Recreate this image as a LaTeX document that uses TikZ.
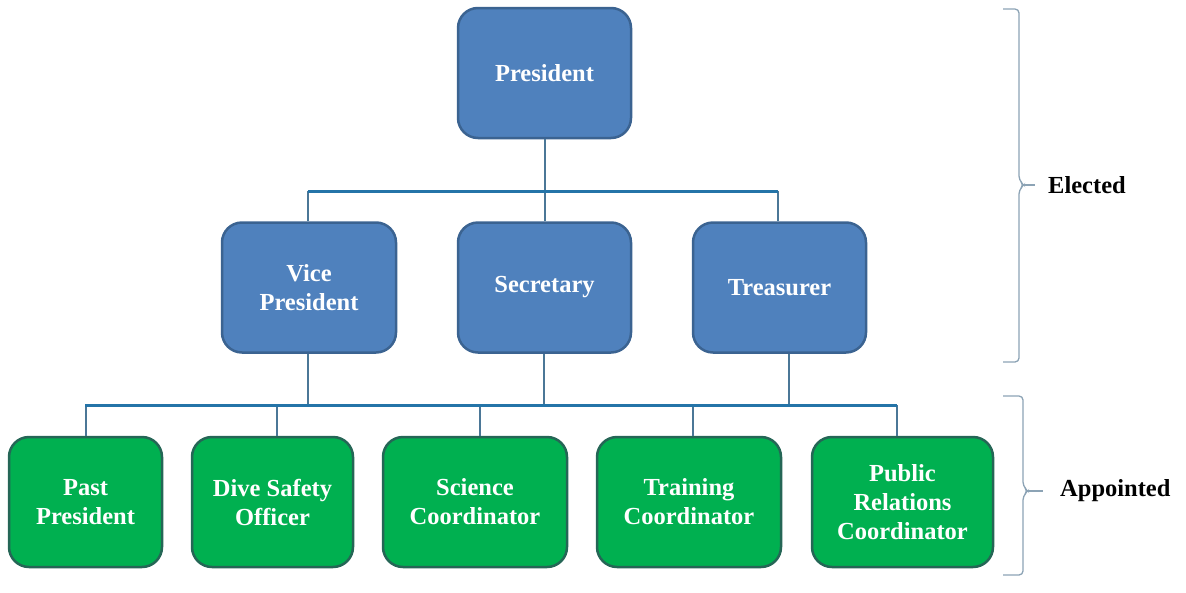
\documentclass[tikz,border=0pt]{standalone}
\usepackage{fontspec}
\setmainfont{Liberation Serif}
\usetikzlibrary{positioning}
\definecolor{boxblue}{HTML}{4F81BD}
\definecolor{edgeblue}{HTML}{3B6391}
\definecolor{boxgreen}{HTML}{00B050}
\definecolor{edgegreen}{HTML}{256656}
\definecolor{barblue}{HTML}{2474A8}
\definecolor{stemblue}{HTML}{4B7797}
\definecolor{bracegray}{HTML}{8CA3B5}

\begin{document}
\begin{tikzpicture}[x=1pt, y=-1pt,
    officer/.style={draw=edgeblue, fill=boxblue, line width=2.5pt, rounded corners=20pt,
      minimum width=#1, minimum height=130pt, inner sep=0pt, align=center, text=white,
      font=\fontsize{24.5}{29}\selectfont\bfseries},
    officer/.default=173pt,
    member/.style={officer=#1, draw=edgegreen, fill=boxgreen},
    stem/.style={draw=stemblue, line width=2pt},
    bar/.style={draw=barblue, line width=3pt},
    bracket/.style={draw=bracegray, line width=1.3pt, rounded corners=4pt},
    tag/.style={inner sep=0pt, font=\fontsize{24.5}{29}\selectfont\bfseries}]
      \useasboundingbox (0,0) rectangle (1186,592);

      % elected
      \node[officer] (pres) at (544.5,73) {President};
      \node[officer=174pt] (vp) at (309,287.5) {Vice\\President};
      \node[officer] (sec) at (544.5,287.5) {Secretary};
      \node[officer] (tre) at (779.5,287.5) {Treasurer};

      % appointed
      \node[member=153pt] (past) at (85.5,502) {Past\\President};
      \node[member=161pt] (dive) at (272.5,502) {Dive Safety\\Officer};
      \node[member=184pt] (sci) at (475,502) {Science\\Coordinator};
      \node[member=184pt] (train) at (689,502) {Training\\Coordinator};
      \node[member=181pt] (pr) at (902.5,502) {Public\\Relations\\Coordinator};

      \coordinate (b1l) at (308,191);
      \coordinate (b1r) at (778,191);
      \coordinate (b2l) at (85,405);
      \coordinate (b2r) at (897,405);

      \draw[stem] (pres) -- (pres |- b1l);
      \draw[stem] ([xshift=-1pt]vp.north) -- ([xshift=-1pt]vp.north |- b1l);
      \draw[stem] (sec) -- (sec |- b1l);
      \draw[stem] ([xshift=-1.5pt]tre.north) -- ([xshift=-1.5pt]tre.north |- b1r);

      \draw[stem] ([xshift=-1pt]vp.south) -- ([xshift=-1pt]vp.south |- b2l);
      \draw[stem] ([xshift=-1pt]sec.south) -- ([xshift=-1pt]sec.south |- b2l);
      \draw[stem] ([xshift=9.5pt]tre.south) -- ([xshift=9.5pt]tre.south |- b2r);

      \draw[stem] (past) -- (past |- b2l);
      \draw[stem] ([xshift=4.5pt]dive.north) -- ([xshift=4.5pt]dive.north |- b2l);
      \draw[stem] ([xshift=5pt]sci.north) -- ([xshift=5pt]sci.north |- b2l);
      \draw[stem] ([xshift=4pt]train.north) -- ([xshift=4pt]train.north |- b2l);
      \draw[stem] ([xshift=-5.5pt]pr.north) -- ([xshift=-5.5pt]pr.north |- b2r);

      \draw[bar] (b1l) -- (b1r);
      \draw[bar] (b2l) -- (b2r);

      % braces
      \coordinate (etip) at (1035,185);
      \coordinate (atip) at (1043,491);
      \draw[bracket] (1003,9) -- (1019,9) -- (1019,180) -- (1024,185) -- (1019,190) -- (1019,362) -- (1003,362);
      \draw[bracket] (1024,185) -- (etip);
      \draw[bracket] (1003,396) -- (1023,396) -- (1023,486) -- (1028,491) -- (1023,496) -- (1023,575) -- (1003,575);
      \draw[bracket] (1028,491) -- (atip);

      \node[tag, right=13pt of etip] (elected) {Elected};
      \node[tag, right=17pt of atip] (appointed) {Appointed};
    \end{tikzpicture}
\end{document}
